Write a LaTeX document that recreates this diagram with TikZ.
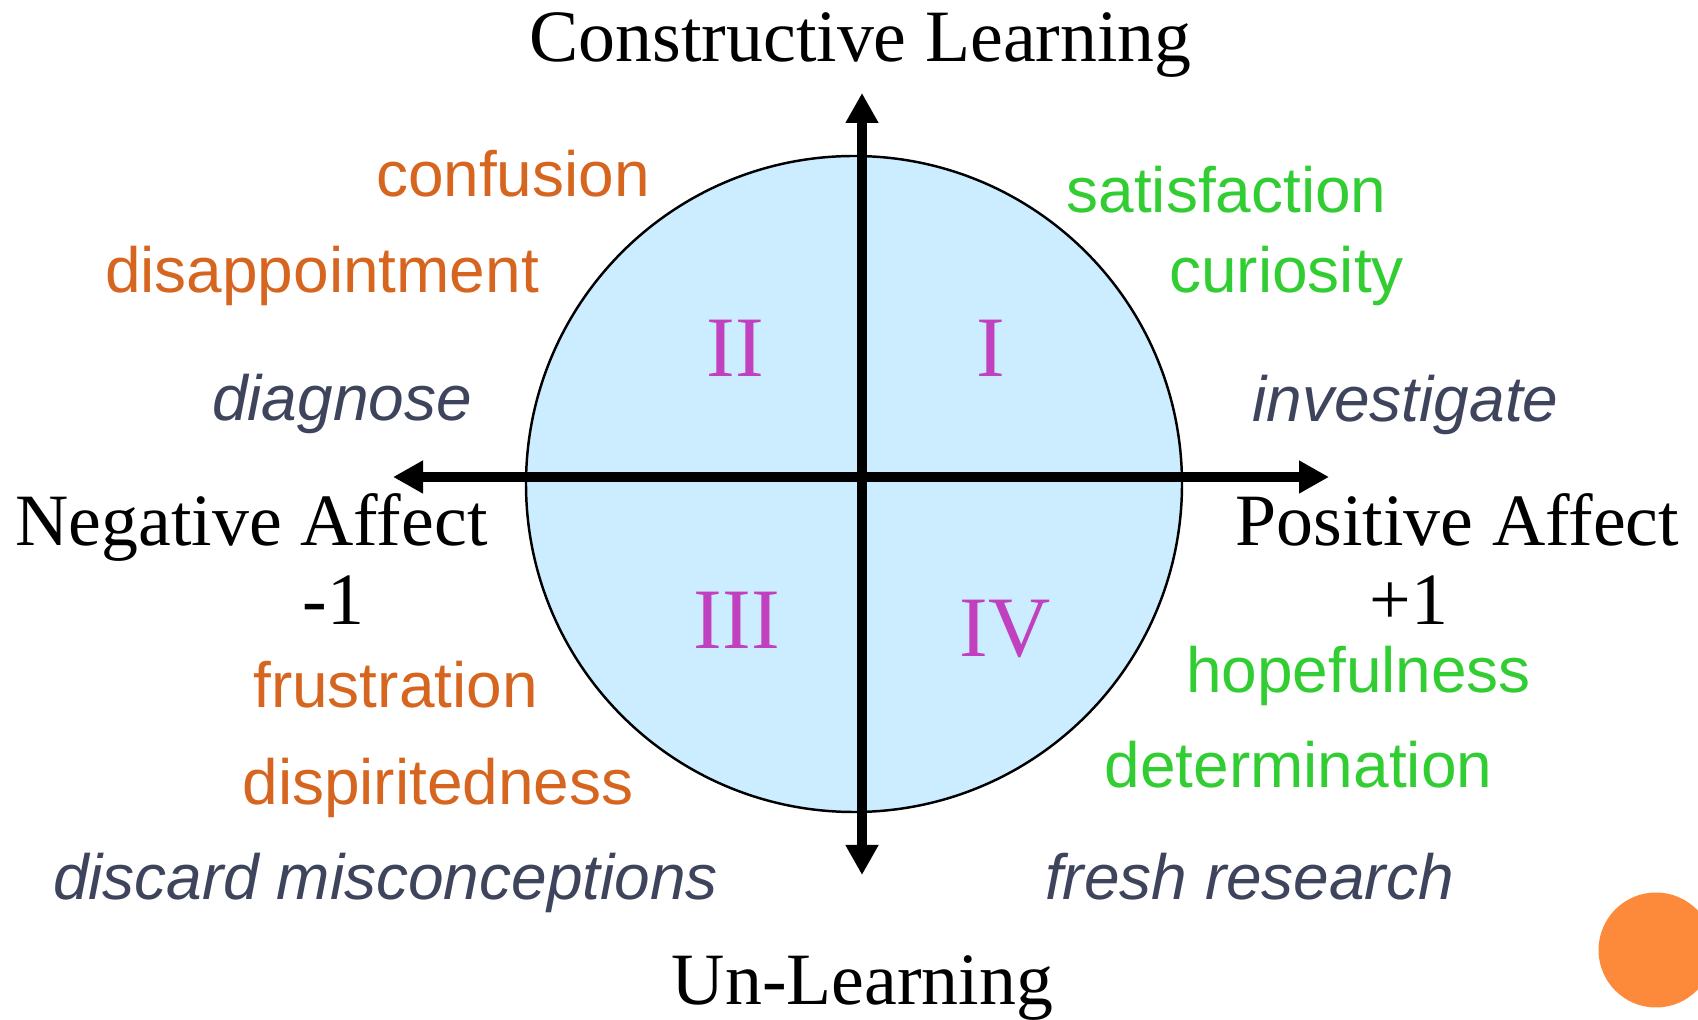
\documentclass[tikz,border=0pt]{standalone}
\usepackage{fontspec}
\setmainfont{Liberation Serif}
\setsansfont{Liberation Sans}
\usetikzlibrary{arrows.meta}

\definecolor{skyfill}{RGB}{204,236,255}
\definecolor{emoorange}{RGB}{214,101,32}
\definecolor{emogreen}{RGB}{50,205,50}
\definecolor{actslate}{RGB}{62,68,92}
\definecolor{quadpink}{RGB}{192,64,192}
\definecolor{dotorange}{RGB}{253,138,58}

\begin{document}
\begin{tikzpicture}[every node/.style={inner sep=0pt, outer sep=0pt, anchor=base},
  axislabel/.style={font=\fontsize{42}{50}\selectfont},
  emotion/.style={font=\sffamily\fontsize{36.4}{44}\selectfont},
  action/.style={font=\sffamily\itshape\fontsize{36.4}{44}\selectfont, text=actslate},
  quadrant/.style={font=\fontsize{49}{58}\selectfont, text=quadpink},
  axisline/.style={line width=5.7pt, -{Triangle[length=0.6cm, width=0.62cm]}, shorten <=0pt}]
\useasboundingbox (0,0) rectangle (33.96,20.4);

\filldraw[fill=skyfill, draw=black, line width=1.4pt] (17.08,10.72) circle (6.56);

\coordinate (origin) at (17.24,10.86);
\coordinate (top) at (17.24,18.54);
\coordinate (bottom) at (17.24,2.90);
\coordinate (left) at (7.86,10.86);
\coordinate (right) at (26.58,10.86);
\draw[axisline] (origin) -- (top);
\draw[axisline] (origin) -- (bottom);
\draw[axisline] (origin) -- (left);
\draw[axisline] (origin) -- (right);
\fill[black] (17.24,10.86) circle (2.85pt);

\node[axislabel] (construct) at (17.21,19.16) {Constructive Learning};
\node[axislabel] (unlearn) at (17.25,0.30) {Un-Learning};
\node[axislabel] (negative) at (5.03,9.48) {Negative Affect};
\node[axislabel] (minusone) at (6.67,7.90) {-1};
\node[axislabel] (positive) at (29.15,9.48) {Positive Affect};
\node[axislabel] (plusone) at (28.18,7.90) {+1};

\node[quadrant] (qtwo) at (14.70,12.86) {II};
\node[quadrant] (qone) at (19.82,12.86) {I};
\node[quadrant] (qthree) at (14.74,7.42) {III};
\node[quadrant] (qfour) at (20.10,7.26) {IV};

\node[emotion, text=emoorange] (confusion) at (10.26,16.46) {confusion};
\node[emotion, text=emoorange] (disappoint) at (6.44,14.54) {disappointment};
\node[action] (diagnose) at (6.84,11.98) {diagnose};
\node[emotion, text=emoorange] (frustration) at (7.91,6.24) {frustration};
\node[emotion, text=emoorange] (dispirited) at (8.76,4.30) {dispiritedness};
\node[action] (discard) at (7.71,2.40) {discard misconceptions};

\node[emotion, text=emogreen] (satisfaction) at (24.53,16.14) {satisfaction};
\node[emotion, text=emogreen] (curiosity) at (25.73,14.54) {curiosity};
\node[action] (investigate) at (28.11,11.96) {investigate};
\node[emotion, text=emogreen] (hopeful) at (27.17,6.54) {hopefulness};
\node[emotion, text=emogreen] (determination) at (25.97,4.64) {determination};
\node[action] (fresh) at (24.99,2.40) {fresh research};

\fill[dotorange] (33.12,1.40) circle (1.15);
\end{tikzpicture}
\end{document}
